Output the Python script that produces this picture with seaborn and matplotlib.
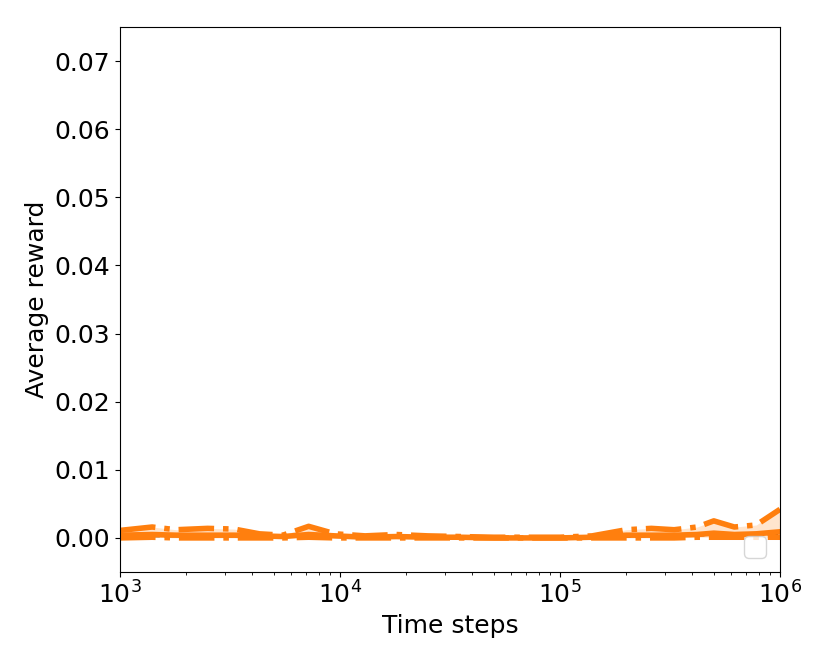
import numpy as np
import pandas as pd
import seaborn as sns
import matplotlib
matplotlib.use("Agg")
import matplotlib.pyplot as plt

ORANGE = "#ff7f0e"

steps = [1000, 1400, 1800, 2500, 3300, 4300, 5500, 7200, 9500, 13000, 18000,
         25000, 35000, 50000, 70000, 100000, 140000, 200000, 260000, 330000,
         420000, 500000, 620000, 780000, 1000000]
upper = [0.0011, 0.0016, 0.0012, 0.0014, 0.0013, 0.0006, 0.0004, 0.0017, 0.0006,
         0.0003, 0.0005, 0.0003, 0.0002, 0.0001, 0.0001, 0.0001, 0.0003, 0.0012,
         0.0014, 0.0012, 0.0016, 0.0025, 0.0016, 0.0019, 0.0042]
mean = [0.0004, 0.0005, 0.0004, 0.0004, 0.0004, 0.0003, 0.0002, 0.0005, 0.0003,
        0.0001, 0.0002, 0.0001, 0.0001, 0.0000, 0.0000, 0.0000, 0.0001, 0.0004,
        0.0004, 0.0004, 0.0005, 0.0007, 0.0005, 0.0006, 0.0009]
lower = [0.0000, 0.0001, 0.0000, 0.0000, 0.0000, 0.0000, 0.0000, 0.0001, 0.0000,
         0.0000, 0.0000, 0.0000, 0.0000, 0.0000, 0.0000, 0.0000, 0.0000, 0.0000,
         0.0000, 0.0000, 0.0001, 0.0001, 0.0001, 0.0001, 0.0001]
baseline = [0.0003, 0.0003, 0.0003, 0.0003, 0.0003, 0.0002, 0.0002, 0.0004, 0.0002,
            0.0001, 0.0001, 0.0001, 0.0000, 0.0000, 0.0000, 0.0000, 0.0001, 0.0002,
            0.0003, 0.0003, 0.0004, 0.0005, 0.0005, 0.0005, 0.0006]

df = pd.DataFrame({"steps": steps, "upper": upper, "mean": mean,
                   "lower": lower, "baseline": baseline})

sns.set_style("ticks", {"axes.edgecolor": "black", "axes.labelcolor": "black",
                        "text.color": "black", "xtick.color": "black",
                        "ytick.color": "black"})
plt.rcParams["font.family"] = ["DejaVu Sans"]

fig = plt.figure(figsize=(8.3, 6.64), dpi=100)
ax = fig.add_axes([0.1446, 0.1386, 0.7952, 0.8207])

sns.lineplot(data=df, x="steps", y="baseline", color="black", lw=2,
             linestyle="--", ax=ax, zorder=1)
ax.fill_between(df["steps"], df["lower"], df["upper"], color=ORANGE, alpha=0.2, lw=0)
sns.lineplot(data=df, x="steps", y="mean", color=ORANGE, lw=4, ax=ax)
sns.lineplot(data=df, x="steps", y="upper", color=ORANGE, lw=4, linestyle="-.", ax=ax)
sns.lineplot(data=df, x="steps", y="lower", color=ORANGE, lw=4, linestyle="-.", ax=ax)

ax.set_xscale("log")
ax.set_xlim(1e3, 1e6)
ax.set_ylim(-0.005, 0.075)
ax.set_yticks(np.arange(0, 0.071, 0.01))
ax.set_xlabel("Time steps", fontsize=18)
ax.set_ylabel("Average reward", fontsize=18)
ax.tick_params(labelsize=18)
ax.legend(handles=[], loc="lower right", fontsize=20)

fig.savefig("out.png", dpi=100)
